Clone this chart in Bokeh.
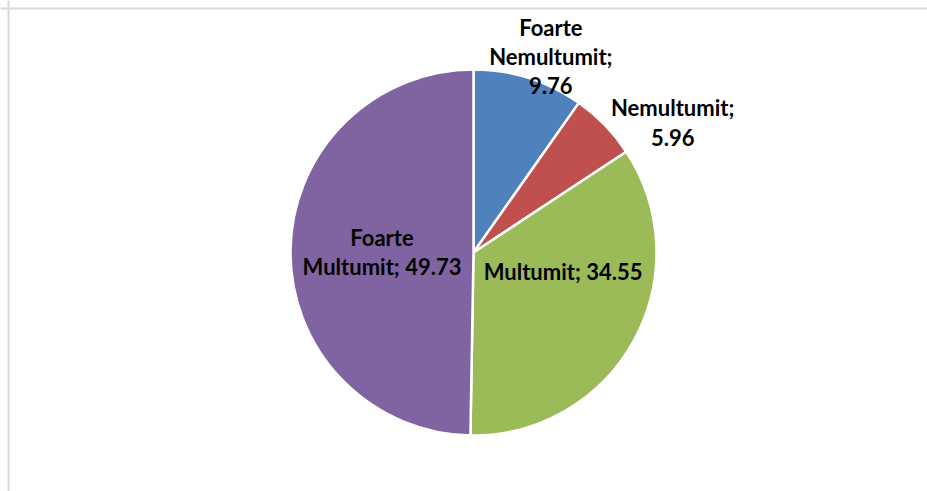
import math
from bokeh.plotting import figure
from bokeh.models import Range1d, ColumnDataSource, Span
from bokeh.core.properties import value
from bokeh.embed import file_html
from bokeh.resources import INLINE

# ---- data ----
categories = ["Foarte Nemultumit", "Nemultumit", "Multumit", "Foarte Multumit"]
values = [9.76, 5.96, 34.55, 49.73]
colors = ["#4F81BD", "#C0504D", "#9BBB59", "#8064A2"]
# how each data label is wrapped
label_breaks = ["all", "value", "none", "word"]

# ---- layout (pixels) ----
W, H = 927, 491
CX, CY = 473, 252          # pie centre in canvas pixels (from top-left)
R = 183
label_r = [1.15, 1.30, 0.50, 0.50]
label_angle_shift = [-4.0, -11.0, 17.0, 0.0]   # degrees

total = sum(values)
starts, ends, mids = [], [], []
acc = 0.0
for v in values:
    a0 = math.pi / 2 - 2 * math.pi * acc / total
    acc += v
    a1 = math.pi / 2 - 2 * math.pi * acc / total
    starts.append(a0)
    ends.append(a1)
    mids.append((a0 + a1) / 2)

def make_label(cat, val, mode):
    words = cat.split(" ")
    if mode == "all":
        return "\n".join(words[:-1] + [words[-1] + ";", f"{val:.2f}"])
    if mode == "word":
        return "\n".join(words[:-1] + [words[-1] + "; " + f"{val:.2f}"])
    if mode == "value":
        return f"{cat};\n{val:.2f}"
    return f"{cat}; {val:.2f}"

labels = [make_label(c, v, m) for c, v, m in zip(categories, values, label_breaks)]

lx, ly = [], []
for i, m in enumerate(mids):
    a = m + math.radians(label_angle_shift[i])
    lx.append(R * label_r[i] * math.cos(a))
    ly.append(R * label_r[i] * math.sin(a))

src = ColumnDataSource(dict(cat=categories, val=values, color=colors,
                            start=starts, end=ends))
lsrc = ColumnDataSource(dict(x=lx, y=ly, text=labels))

p = figure(width=W, height=H, output_backend="svg", toolbar_location=None,
           x_range=Range1d(-CX, W - CX), y_range=Range1d(-(H - CY), CY),
           min_border=0, outline_line_color=None)
p.axis.visible = False
p.grid.visible = False
p.background_fill_color = "white"
p.border_fill_color = "white"

p.wedge(x=0, y=0, radius=R, start_angle="start", end_angle="end",
        direction="clock", fill_color="color", line_color="white",
        line_width=2.5, source=src)

p.text(x="x", y="y", text="text", source=lsrc, text_align="center",
       text_baseline="middle", text_font=value("Lato"),
       text_font_style="bold", text_font_size="22px", text_color="black",
       text_line_height=1.08)

# chart area border (only top and left edges are visible in the window)
p.add_layout(Span(location=-CX + 8, dimension="height",
                  line_color="#D9D9D9", line_width=2))
p.add_layout(Span(location=CY - 8, dimension="width",
                  line_color="#D9D9D9", line_width=2))

open("out.html", "w").write(file_html(p, INLINE))
